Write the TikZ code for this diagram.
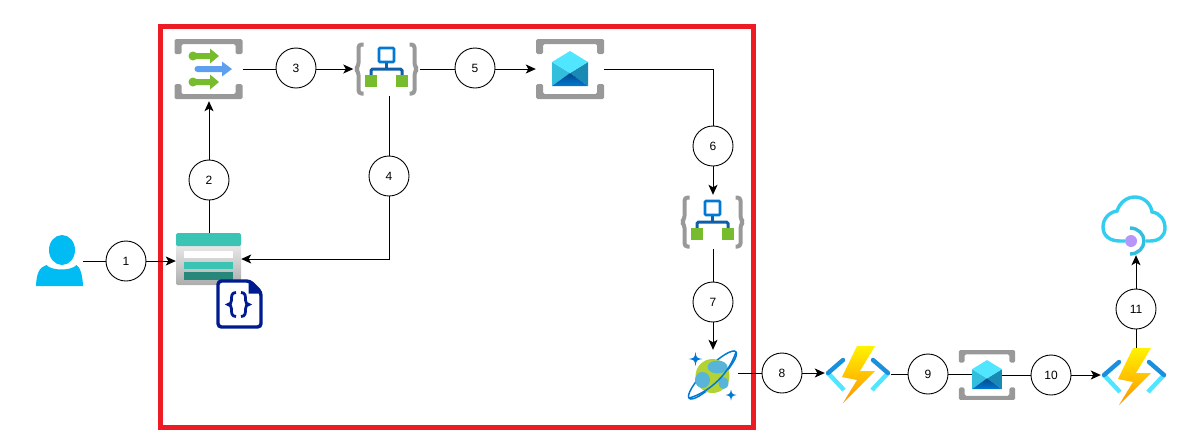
\documentclass[tikz,border=0pt]{standalone}
\usepackage{fontspec}
\setmainfont{Liberation Sans}
\usetikzlibrary{positioning, arrows.meta, calc}

\definecolor{redframe}{HTML}{ED1C24}
\definecolor{iconsky}{HTML}{00BCF2}
\definecolor{icongray}{HTML}{999999}
\definecolor{iconteal}{HTML}{3BC4B4}
\definecolor{icondeep}{HTML}{27877B}
\definecolor{iconnavy}{HTML}{001A8F}
\definecolor{icongreen}{HTML}{76BC2D}
\definecolor{iconblue}{HTML}{0078D4}
\definecolor{iconarrow}{HTML}{5EA0EF}
\definecolor{iconstem}{HTML}{0F5FA8}
\definecolor{iconbolt}{HTML}{1A8FDD}
\definecolor{iconcyan}{HTML}{50E6FF}
\definecolor{iconmid}{HTML}{32BEDD}
\definecolor{iconsea}{HTML}{198AB3}
\definecolor{iconink}{HTML}{004A8C}
\definecolor{iconcloud}{HTML}{32CDEF}
\definecolor{iconlilac}{HTML}{B796F9}
\definecolor{iconlime}{HTML}{B3D334}
\definecolor{iconpool}{HTML}{59B4D9}

\tikzset{
    iconbox/.style={inner sep=0pt, minimum width=#1},
    step circle/.style={draw=black, fill=white, circle, line width=0.9pt, minimum size=40pt, inner sep=0pt, font=\fontsize{12}{14}\selectfont},
    flow/.style={black, line width=1pt},
    flow arrow/.style={flow, -{Stealth[length=10pt, width=9pt, inset=2.5pt]}},
    % gray corner brackets
    pics/cornerframe/.style={code={
        \foreach \s in {1,-1}
        {
            \fill[icongray, rounded corners=1.5pt, yscale=\s]
                (-34,-15) -- (-34,-30) -- (34,-30) -- (34,-15) -- (27,-15) -- (27,-25) -- (-27,-25) -- (-27,-15) -- cycle;
        }
    }},
    pics/gridicon/.style={code={
        \pic[transform shape] {cornerframe};
        \foreach \a/\b/\h/\e/\r/\c in {-15.5/1.5/-13/9/4.5/icongreen,-15.5/1.5/13/9/4.5/icongreen,-11/13.5/0/10/3/iconarrow}
        {
            \fill[\c] (\a,\h-3) -- (\b,\h-3) -- (\b,\h-7.5) -- (\b+\e,\h) -- (\b,\h+7.5) -- (\b,\h+3) -- (\a,\h+3) -- cycle;
            \fill[\c] (\a,\h) circle (\r);
        }
    }},
    pics/logicicon/.style={code={
        \foreach \s in {1,-1}
        {
            \draw[icongray, line width=4pt, line join=round, rounded corners=3pt, xscale=\s]
                (-23,-24.5) -- (-28,-24.5) -- (-28,-3) -- (-31,0) -- (-28,3) -- (-28,24.5) -- (-23,24.5);
        }
        \draw[iconstem, line width=3pt] (0,-6) -- (0,0);
        \draw[iconstem, line width=3pt, rounded corners=1.5pt] (-15.5,7) -- (-15.5,0) -- (15.5,0) -- (15.5,7);
        \draw[iconblue, fill=white, line width=2.6pt, rounded corners=1pt] (-7.5,-21) rectangle (7.5,-7);
        \fill[icongreen] (-21.5,6) rectangle (-9.5,18);
        \fill[icongreen] (9.5,6) rectangle (21.5,18);
    }},
    pics/envelope/.style={code={
        \fill[iconmid] (-18,-7) -- (0,4) -- (-18,17) -- cycle;
        \fill[iconsea] (18,-7) -- (0,4) -- (18,17) -- cycle;
        \shade[top color=iconink, bottom color=iconblue] (-18,17) -- (0,4) -- (18,17) -- cycle;
        \fill[iconcyan] (0,-18) -- (18,-7) -- (0,4) -- (-18,-7) -- cycle;
    }},
    pics/busicon/.style={code={
        \pic[transform shape] {cornerframe};
        \pic[transform shape] {envelope};
    }},
    pics/funcicon/.style={code={
        \foreach \s in {1,-1}
        {
            \draw[iconcyan, line width=4.4pt, xscale=\s] (-30,-2) -- (-14,15);
            \draw[iconbolt, line width=4.4pt, line cap=round, xscale=\s] (-30,-2) -- (-15,-15);
        }
        \shade[top color=yellow!90!orange, bottom color=orange!85!yellow]
            (-1,-29) -- (17,-29) -- (2,-4) -- (17,-4) -- (-15,28) -- (-1,5) -- (-16,2) -- cycle;
    }},
}

\begin{document}
\begin{tikzpicture}[x=1pt, y=-1pt]
        \useasboundingbox (0,0) rectangle (1202,440);

        % border
        \draw[redframe, line width=5pt] (160.5,26.5) rectangle (753.5,427.5);

        % places of the icons
        \node[iconbox=47pt, minimum height=50pt] (user) at (59.5,261) {};
        \node[iconbox=65pt, minimum height=52pt] (storage) at (208.5,259) {};
        \node[iconbox=47pt, minimum height=50pt] (doc) at (239.5,304) {};
        \node[iconbox=68pt, minimum height=64pt] (grid) at (208.5,69) {};
        \node[iconbox=66pt, minimum height=54pt] (logicA) at (386.5,69) {};
        \node[iconbox=68pt, minimum height=60pt] (busA) at (570,69) {};
        \node[iconbox=66pt, minimum height=54pt] (logicB) at (712.5,222) {};
        \node[iconbox=50pt, minimum height=50pt] (cosmos) at (712.5,375) {};
        \node[iconbox=66pt, minimum height=58pt] (funcA) at (858,375) {};
        \node[iconbox=29pt, minimum height=50pt] (busB) at (987,375) {};
        \node[iconbox=66pt, minimum height=58pt] (funcB) at (1134,377) {};
        \node[iconbox=65pt, minimum height=58pt] (cloud) at (1134,226) {};

        % numbered steps
        \foreach \name/\a/\b/\lbl in {c1/126/261/1,c2/209/180/2,c3/296/68/3,c4/389/176/4,c5/475/68/5,c6/713/146/6,c7/713/302/7,c8/782/373/8,c9/928/374/9,c10/1051/375/10,c11/1136/309/11}
        {
            \node[step circle] (\name) at (\a,\b) {\lbl};
        }

        % connectors
        \draw[flow] (user.east |- c1) -- (c1);
        \draw[flow arrow] (c1) -- (c1 -| storage.west);
        \draw[flow] (c2 |- storage.north) -- (c2);
        \draw[flow arrow] (c2) -- (c2 |- grid.south);
        \draw[flow] (grid.east) -- (c3.west |- grid.east);
        \draw[flow arrow] (c3.east |- grid.east) -- (logicA.west);
        \draw[flow] (c4 |- logicA.south) -- (c4);
        \draw[flow arrow] (c4) -- (c4 |- storage.east) -- (storage.east);
        \draw[flow] (logicA.east) -- (c5.west |- logicA.east);
        \draw[flow arrow] (c5.east |- logicA.east) -- (busA.west);
        \draw[flow] (busA.east) -| (c6);
        \draw[flow arrow] (c6) -- (c6 |- logicB.north);
        \draw[flow] (c7 |- logicB.south) -- (c7);
        \draw[flow arrow] (c7) -- (c7 |- cosmos.north);
        \draw[flow] (cosmos.east |- c8) -- (c8);
        \draw[flow arrow] (c8) -- (c8 -| funcA.west);
        \draw[flow] (funcA.east |- c9) -- (c9);
        \draw[flow] (c9) -- (c9 -| busB.west);
        \draw[flow] (busB.east |- c10) -- (c10);
        \draw[flow arrow] (c10) -- (c10 -| funcB.west);
        \draw[flow] (c11 |- funcB.north) -- (c11);
        \draw[flow arrow] (c11) -- (c11 |- cloud.south);

        % user
        \begin{scope}[shift={(user.center)}]
            \fill[iconsky] (2.5,-11) ellipse (13 and 15);
            \fill[iconsky] (-23.5,25) .. controls (-23,12) and (-20,6) .. (-13,4)
                .. controls (-8,10) and (12,10) .. (17,4)
                .. controls (20,6) and (23,12) .. (23.5,25) -- cycle;
        \end{scope}

        % storage account and document
        \begin{scope}[shift={(storage.center)}]
            \shade[top color=gray!15, bottom color=gray!65, rounded corners=1.5pt] (-32.5,-16) rectangle (32.5,26);
            \fill[iconteal, rounded corners=1.5pt] (-32.5,-26) rectangle (32.5,-13);
            \fill[white] (-24.5,-8) rectangle (24.5,-1);
            \fill[iconteal] (-24.5,3) rectangle (24.5,10);
            \fill[icondeep] (-24.5,13) rectangle (24.5,21);
        \end{scope}
        \begin{scope}[shift={(doc.center)}]
            \draw[iconnavy, fill=white, line width=3.4pt, rounded corners=3.5pt]
                (-21.5,-23) -- (10.5,-23) -- (21.5,-12) -- (21.5,23) -- (-21.5,23) -- cycle;
            \fill[iconnavy] (9,-24) -- (22.5,-10.5) -- (9,-10.5) -- cycle;
            \foreach \s in {1,-1}
            {
                \draw[iconnavy, line width=2.8pt, xshift=-1pt, xscale=\s]
                    (-2.5,-11.5) .. controls (-7,-11.5) and (-7,-8) .. (-7,-4)
                    .. controls (-7,-1.5) and (-8,0.5) .. (-10.5,0.5)
                    .. controls (-8,0.5) and (-7,2.5) .. (-7,5)
                    .. controls (-7,9) and (-7,12.5) .. (-2.5,12.5);
            }
        \end{scope}

        % icons used more than once
        \pic at (grid.center) {gridicon};
        \pic at (logicA.center) {logicicon};
        \pic at (logicB.center) {logicicon};
        \pic at (busA.center) {busicon};
        \pic[scale=0.83, transform shape] at (busB.center) {busicon};
        \pic at (funcA.center) {funcicon};
        \pic at (funcB.center) {funcicon};

        % database
        \begin{scope}[shift={(cosmos.center)}]
            \draw[iconblue, line width=1.5pt, rotate=45] (0,0) ellipse (33 and 8);
            \fill[iconlime] (0,1) circle (17);
            \fill[iconpool] (5,-8) ellipse (10 and 6.5);
            \fill[iconpool] (-10,5) ellipse (7.5 and 8);
            \fill[iconpool] (11,8) ellipse (5 and 6);
            \draw[iconblue, line width=1.5pt] (-23.5,23) .. controls (-8,19) and (15,3) .. (23.5,-23);
            \foreach \a/\b/\r in {-17/-16/7,18.5/20/5.5}
            {
                \fill[iconblue] (\a-\r,\b) .. controls (\a-1,\b-1) .. (\a,\b-\r)
                    .. controls (\a+1,\b-1) .. (\a+\r,\b)
                    .. controls (\a+1,\b+1) .. (\a,\b+\r)
                    .. controls (\a-1,\b+1) .. cycle;
            }
        \end{scope}

        % cloud
        \begin{scope}[shift={(cloud.center)}]
            \draw[iconcloud, line width=3.4pt]
                (-9,15) -- (-14,15) .. controls (-24,15) and (-31,10) .. (-31,1)
                .. controls (-31,-8) and (-24,-14) .. (-17,-15)
                .. controls (-14,-24) and (-7,-29) .. (1,-29)
                .. controls (10,-29) and (17,-22) .. (18,-14)
                .. controls (26,-13) and (31,-6) .. (31,2)
                .. controls (31,10) and (25,15) .. (16,15) -- (12,15);
            \draw[iconmid, line width=3.4pt] (-4,2) .. controls (4,2) and (10,8) .. (10,15)
                .. controls (10,22) and (4,28) .. (-4,28);
            \fill[iconlilac] (-3,15) circle (6);
        \end{scope}
    \end{tikzpicture}
\end{document}
